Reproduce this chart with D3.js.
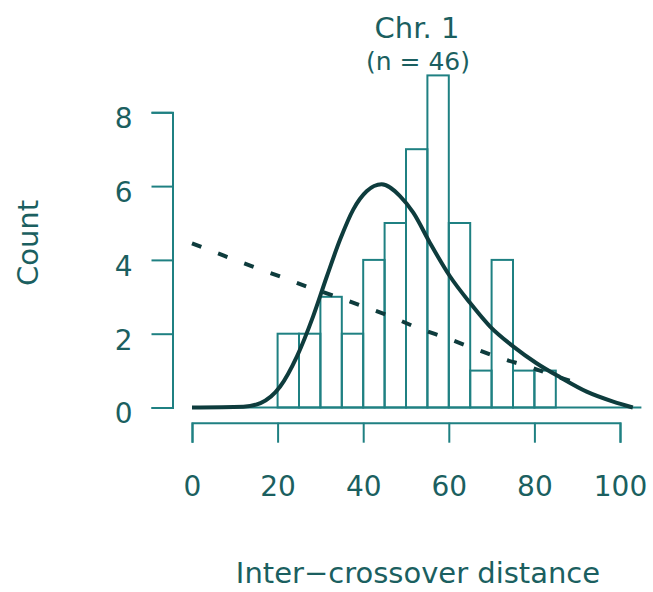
<!DOCTYPE html>
<html>
<head>
<meta charset="utf-8">
<script src="https://cdn.jsdelivr.net/npm/d3@7"></script>
<style>
	body { margin: 0; background: #fff; }
	svg text { font-family: "DejaVu Sans", sans-serif; fill: #1b5f60; }
</style>
</head>
<body>
<svg id="chart" width="653" height="592"></svg>
<script>
// histogram bins (lower edge) and counts, chromosome 1
var binLo = [20, 25, 30, 35, 40, 45, 50, 55, 60, 65, 70, 75, 80];
var counts = [2, 2, 3, 2, 4, 5, 7, 9, 5, 1, 4, 1, 1];
var binWidth = 5;

// fitted curves
var solidX = [0, 12, 16, 20.6, 24.5, 28.3, 31.5, 34.6, 37.7, 40.8, 44.3, 48.6, 51.7, 55.6, 60.3, 65, 69.6, 75.1, 80.5, 86, 92.2, 98.4, 103];
var solidY = [0, 0.02, 0.12, 0.57, 1.38, 2.47, 3.55, 4.55, 5.37, 5.86, 6.05, 5.73, 5.28, 4.46, 3.55, 2.83, 2.2, 1.65, 1.2, 0.82, 0.43, 0.16, 0];
var dashX = [0, 7.3, 13.9, 20.6, 26.8, 33, 40, 46.3, 52.9, 59.5, 65.7, 72, 78.6, 85.2, 90];
var dashY = [4.45, 4.12, 3.83, 3.55, 3.28, 3.03, 2.74, 2.47, 2.15, 1.88, 1.61, 1.34, 1.11, 0.84, 0.66];

var xTicks = [0, 20, 40, 60, 80, 100];
var yTicks = [0, 2, 4, 6, 8];

var title = "Chr. 1",
	subtitle = "(n = 46)",
	xLabel = "Inter\u2212crossover distance",
	yLabel = "Count";

var teal = "#1f8082",
	dark = "#0e3c3d";

var svg = d3.select("#chart");

var x = d3.scaleLinear().domain([0, 100]).range([192, 620]);
var y = d3.scaleLinear().domain([0, 8]).range([407.5, 112.3]);

// baseline under the curves
svg.append("line")
	.attr("x1", x(0)).attr("x2", x(105))
	.attr("y1", y(0)).attr("y2", y(0))
	.attr("stroke", teal).attr("stroke-width", 2);

// bars
svg.selectAll("rect.bar")
	.data(counts)
.enter().append("rect")
	.attr("class", "bar")
	.attr("x", function(d, i) { return x(binLo[i]); })
	.attr("width", function(d, i) { return x(binLo[i] + binWidth) - x(binLo[i]); })
	.attr("y", function(d) { return y(d); })
	.attr("height", function(d) { return y(0) - y(d); })
	.attr("fill", "none")
	.attr("stroke", teal)
	.attr("stroke-width", 2);

var line = d3.line()
	.x(function(d) { return x(d[0]); })
	.y(function(d) { return y(d[1]); })
	.curve(d3.curveMonotoneX);

svg.append("path")
	.datum(d3.zip(dashX, dashY))
	.attr("d", line)
	.attr("fill", "none")
	.attr("stroke", dark)
	.attr("stroke-width", 4)
	.attr("stroke-dasharray", "10,18");

svg.append("path")
	.datum(d3.zip(solidX, solidY))
	.attr("d", line)
	.attr("fill", "none")
	.attr("stroke", dark)
	.attr("stroke-width", 4);

// axes, R style (detached from the plot region)
var xAxis = svg.append("g")
	.attr("transform", "translate(0,422.7)")
	.call(d3.axisBottom(x).tickValues(xTicks).tickSize(20).tickSizeOuter(20).tickPadding(33));

var yAxis = svg.append("g")
	.attr("transform", "translate(172.5,0)")
	.call(d3.axisLeft(y).tickValues(yTicks).tickSize(21).tickSizeOuter(21).tickPadding(19));

svg.selectAll(".domain, .tick line")
	.attr("stroke", teal)
	.attr("stroke-width", 2);
svg.selectAll(".tick text")
	.attr("fill", "#1b5f60")
	.style("font-size", "28px");
yAxis.selectAll(".tick text").attr("dy", "0.55em");

// titles
svg.append("text")
	.attr("x", 417).attr("y", 38)
	.attr("text-anchor", "middle")
	.style("font-size", "29px")
	.text(title);

svg.append("text")
	.attr("x", 418).attr("y", 70)
	.attr("text-anchor", "middle")
	.style("font-size", "25px")
	.text(subtitle);

svg.append("text")
	.attr("x", 418).attr("y", 583)
	.attr("text-anchor", "middle")
	.style("font-size", "29px")
	.text(xLabel);

svg.append("text")
	.attr("transform", "translate(38,243) rotate(-90)")
	.attr("text-anchor", "middle")
	.style("font-size", "29px")
	.text(yLabel);
</script>
</body>
</html>
